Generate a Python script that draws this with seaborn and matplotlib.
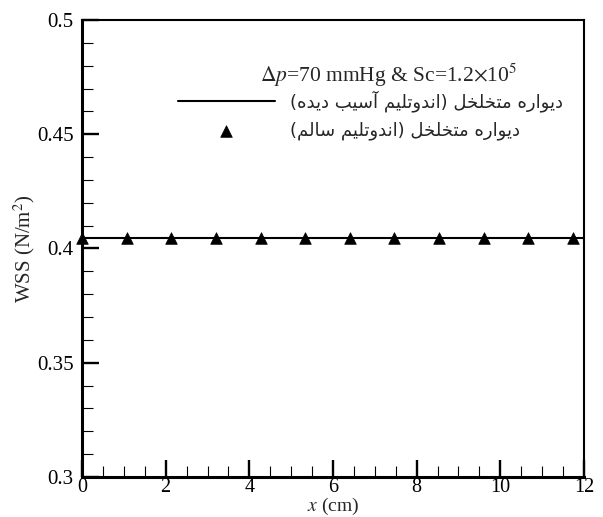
import numpy as np
import pandas as pd
import matplotlib
matplotlib.use("Agg")
import matplotlib.pyplot as plt
import seaborn as sns
from matplotlib.ticker import MultipleLocator, FuncFormatter

# ---------------------------------------------------------------
# data
# ---------------------------------------------------------------
line_x = [0.0, 12.0]
line_wss = [0.4045, 0.4045]

marker_x = [0.0, 1.07, 2.13, 3.2, 4.27, 5.34, 6.4, 7.47, 8.54, 9.6, 10.67, 11.74]
marker_wss = [0.4045] * len(marker_x)

label_damaged = "دیواره متخلخل (اندوتلیم آسیب دیده)"
label_healthy = "دیواره متخلخل (اندوتلیم سالم)"
header = r"$\Delta p$=70 mmHg & Sc=1.2$\times$10$^5$"

# ---------------------------------------------------------------
# minimal Persian shaping (matplotlib has no text shaping)
# iso, final, initial, medial
# ---------------------------------------------------------------
FORMS = {
    "ا": ("\uFE8D", "\uFE8E", None, None),
    "آ": ("\uFE81", "\uFE82", None, None),
    "ب": ("\uFE8F", "\uFE90", "\uFE91", "\uFE92"),
    "ت": ("\uFE95", "\uFE96", "\uFE97", "\uFE98"),
    "خ": ("\uFEA5", "\uFEA6", "\uFEA7", "\uFEA8"),
    "د": ("\uFEA9", "\uFEAA", None, None),
    "ر": ("\uFEAD", "\uFEAE", None, None),
    "س": ("\uFEB1", "\uFEB2", "\uFEB3", "\uFEB4"),
    "ل": ("\uFEDD", "\uFEDE", "\uFEDF", "\uFEE0"),
    "م": ("\uFEE1", "\uFEE2", "\uFEE3", "\uFEE4"),
    "ن": ("\uFEE5", "\uFEE6", "\uFEE7", "\uFEE8"),
    "ه": ("\uFEE9", "\uFEEA", "\uFEEB", "\uFEEC"),
    "و": ("\uFEED", "\uFEEE", None, None),
    "ی": ("\uFEEF", "\uFEF0", "\uFEF3", "\uFEF4"),
    "ي": ("\uFEEF", "\uFEF0", "\uFEF3", "\uFEF4"),
}


def shape_fa(text):
    chars = list(text)
    out = []
    for i, c in enumerate(chars):
        if c not in FORMS:
            out.append(c)
            continue
        iso, fin, ini, med = FORMS[c]
        prev = chars[i - 1] if i > 0 else None
        nxt = chars[i + 1] if i + 1 < len(chars) else None
        join_prev = prev in FORMS and FORMS[prev][2] is not None
        join_next = ini is not None and nxt in FORMS
        if join_prev and join_next:
            out.append(med)
        elif join_prev:
            out.append(fin)
        elif join_next:
            out.append(ini)
        else:
            out.append(iso)
    vis = "".join(reversed(out))
    return vis.translate(str.maketrans("()", ")("))


# ---------------------------------------------------------------
# style
# ---------------------------------------------------------------
sns.set_theme(style="ticks")
plt.rcParams["font.family"] = ["Liberation Serif", "DejaVu Sans"]
plt.rcParams["mathtext.fontset"] = "stix"

fig = plt.figure(figsize=(6.03, 5.17), dpi=100)
ax = fig.add_axes([82 / 603, 1 - 477 / 517, (584 - 82) / 603, (477 - 20) / 517])

df_line = pd.DataFrame({"x": line_x, "wss": line_wss})
df_pts = pd.DataFrame({"x": marker_x, "wss": marker_wss})

sns.lineplot(data=df_line, x="x", y="wss", color="black", linewidth=1.5,
             ax=ax, label=shape_fa(label_damaged))
sns.scatterplot(data=df_pts, x="x", y="wss", marker="^", s=70, color="black",
                edgecolor="black", linewidth=0.5, clip_on=False, zorder=5,
                ax=ax, label=shape_fa(label_healthy))

ax.set_xlim(0, 12)
ax.set_ylim(0.3, 0.5)
ax.xaxis.set_major_locator(MultipleLocator(2))
ax.xaxis.set_minor_locator(MultipleLocator(0.5))
ax.yaxis.set_major_locator(MultipleLocator(0.05))
ax.yaxis.set_minor_locator(MultipleLocator(0.01))
ax.yaxis.set_major_formatter(FuncFormatter(lambda v, p: f"{v:g}"))

ax.tick_params(which="both", direction="in", top=False, right=False,
               labelsize=15, colors="black")
ax.tick_params(axis="x", which="major", length=12, width=1.7, pad=0.5,
               labelsize=14.5)
ax.tick_params(axis="y", which="major", length=12, width=1.7, pad=6)
ax.tick_params(which="minor", length=8, width=0.8)

for side in ["left", "bottom"]:
    ax.spines[side].set_linewidth(2.2)
for side in ["top", "right"]:
    ax.spines[side].set_linewidth(1.5)
for s in ax.spines.values():
    s.set_color("black")

ax.set_xlabel(r"$x$ (cm)", fontsize=14, labelpad=-0.5)
ax.set_ylabel(r"WSS (N/m$^2$)", fontsize=15, labelpad=0)

ax.text(0.61, 0.88, header, transform=ax.transAxes, ha="center", va="center",
        fontsize=15.5)

ax.legend(loc="center", bbox_to_anchor=(0.574, 0.792), frameon=False,
          prop={"family": "DejaVu Sans", "size": 13}, handlelength=5.4,
          handletextpad=0.8, labelspacing=0.55, borderpad=0, borderaxespad=0)

fig.savefig("out.png", dpi=100)
